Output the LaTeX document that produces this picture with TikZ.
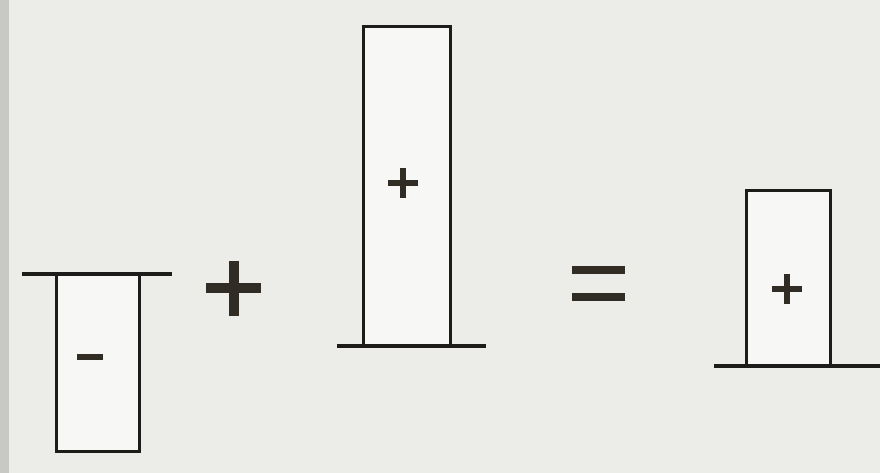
\documentclass[tikz,border=0pt]{standalone}
\definecolor{paper}{RGB}{236,236,233}
\definecolor{edge}{RGB}{200,200,196}
\definecolor{ink}{RGB}{30,28,26}
\definecolor{symink}{RGB}{50,45,36}
\tikzset{
  barbox/.style={draw=ink, line width=3pt, fill=white!60!paper},
  baseln/.style={draw=ink, line width=3.2pt},
  signstroke/.style={draw=symink, line cap=butt},
}
\begin{document}
\begin{tikzpicture}[x=1pt,y=-1pt]
\useasboundingbox (0,0) rectangle (880,473);
\fill[paper] (0,0) rectangle (880,473);
\fill[edge] (0,0) rectangle (9,473);
% left negative bar
\draw[barbox] (56,274) rectangle (139,451);
\draw[baseln] (22,274) coordinate (l1) -- (172,274) coordinate (l2);
\draw[signstroke, line width=5.5pt] (77,357) -- (103,357);
% big plus
\draw[signstroke, line width=10pt] (206,288) -- (261,288);
\draw[signstroke, line width=10pt] (234,261) -- (234,316);
% middle positive bar
\draw[barbox] (363,346) rectangle (450,27);
\draw[baseln] (337,346) coordinate (m1) -- (486,346) coordinate (m2);
\draw[signstroke, line width=5.5pt] (388,183) -- (418,183);
\draw[signstroke, line width=5.5pt] (403,168) -- (403,198);
% equals
\draw[signstroke, line width=8pt] (572,270) -- (625,270);
\draw[signstroke, line width=8pt] (572,297) -- (625,297);
% right positive bar
\draw[barbox] (746,366) rectangle (830,191);
\draw[baseln] (714,366) coordinate (r1) -- (880,366) coordinate (r2);
\draw[signstroke, line width=5.5pt] (772,289) -- (802,289);
\draw[signstroke, line width=5.5pt] (787,274) -- (787,304);
\end{tikzpicture}
\end{document}
